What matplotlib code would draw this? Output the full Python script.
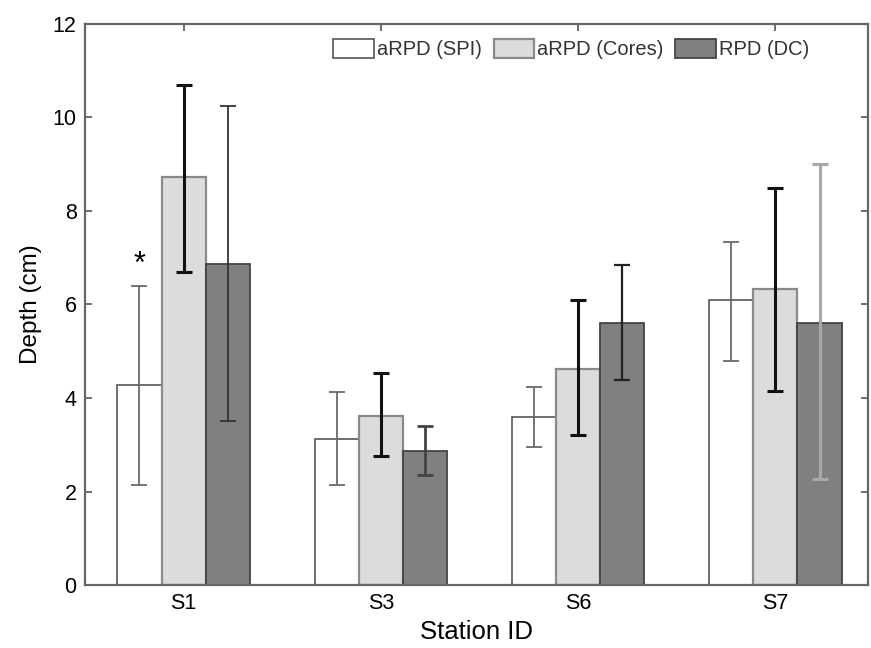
import matplotlib
matplotlib.use("Agg")
import matplotlib.pyplot as plt
import numpy as np

plt.rcParams['font.family'] = ['Liberation Sans', 'DejaVu Sans']

stations = ['S1', 'S3', 'S6', 'S7']
series_names = ['aRPD (SPI)', 'aRPD (Cores)', 'RPD (DC)']

spi_mean = [4.28, 3.13, 3.59, 6.10]
spi_low = [2.14, 2.13, 2.95, 4.79]
spi_high = [6.40, 4.13, 4.24, 7.34]

cores_mean = [8.72, 3.62, 4.62, 6.33]
cores_low = [6.69, 2.76, 3.21, 4.16]
cores_high = [10.70, 4.53, 6.10, 8.49]

dc_mean = [6.86, 2.87, 5.61, 5.61]
dc_low = [3.51, 2.35, 4.38, 2.27]
dc_high = [10.25, 3.41, 6.85, 9.00]

yticks = [0, 2, 4, 6, 8, 10, 12]

fig = plt.figure(figsize=(8.71, 6.48), dpi=100)
ax = fig.add_axes([0.0976, 0.0972, 0.8990, 0.8658])
ax.set_axisbelow(True)

x = np.arange(1, len(stations) + 1)
w = 0.224

means = [spi_mean, cores_mean, dc_mean]
lows = [spi_low, cores_low, dc_low]
highs = [spi_high, cores_high, dc_high]
faces = ['white', '#dcdcdc', '#808080']
edges = ['#555555', '#8a8a8a', '#444444']
elws = [1.2, 1.6, 1.3]
err_colors = [['#6a6a6a'] * 4, ['#111111'] * 4,
              ['#333333', '#444444', '#222222', '#a8a8a8']]
err_lws = [[1.3] * 4, [2.2] * 4, [1.3, 2.0, 1.6, 2.2]]

handles = []
for k in range(3):
    xs = x + (k - 1) * w
    b = ax.bar(xs, means[k], width=w, color=faces[k], edgecolor=edges[k],
               linewidth=elws[k], label=series_names[k], zorder=2)
    handles.append(b)
    m = np.array(means[k])
    lo = m - np.array(lows[k])
    hi = np.array(highs[k]) - m
    for i in range(len(xs)):
        ax.errorbar(xs[i], m[i], yerr=[[lo[i]], [hi[i]]], fmt='none',
                    ecolor=err_colors[k][i], elinewidth=err_lws[k][i],
                    capsize=5.5, capthick=err_lws[k][i], zorder=3)

# significance marker above S1 SPI
ax.text(x[0] - w, spi_high[0] + 0.45, '*', ha='center', va='center',
        fontsize=22, color='black', zorder=4)

ax.set_xlim(0.5, 4.47)
ax.set_ylim(0, 12)
ax.set_xticks(x)
ax.set_xticklabels(stations)
ax.set_yticks(yticks)
ax.tick_params(direction='in', top=True, right=True, labelsize=15.5,
               length=5, width=1.2, color='#555555', pad=6)
for s in ax.spines.values():
    s.set_color('#666666')
    s.set_linewidth(1.6)
    s.set_zorder(5)

ax.set_xlabel('Station ID', fontsize=18.5, labelpad=4)
ax.set_ylabel('Depth (cm)', fontsize=17.5, labelpad=8)

leg = ax.legend(handles=handles, loc='upper right', ncol=3, frameon=False,
                fontsize=14.5, handlelength=2.0, handleheight=1.05,
                handletextpad=0.15, columnspacing=0.6,
                bbox_to_anchor=(0.94, 0.995), borderaxespad=0.2)
for t in leg.get_texts():
    t.set_color('#333333')

fig.savefig('out.png', dpi=100)
